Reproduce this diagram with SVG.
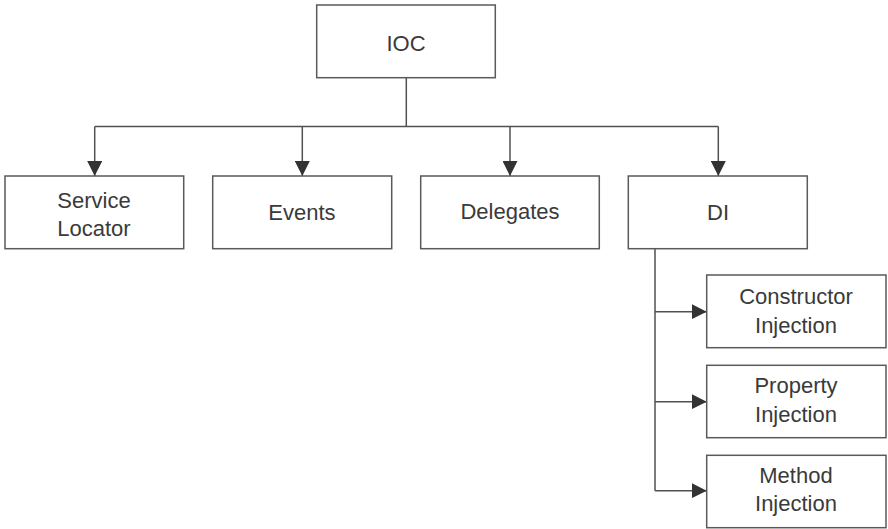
<svg xmlns="http://www.w3.org/2000/svg" width="888" height="529" viewBox="0 0 888 529">
<style>
.box{fill:#fff;stroke:#5a5a5a;stroke-width:1.5}
.lbl{font-family:"Liberation Sans",Arial,sans-serif;font-size:22px;fill:#3a3a3a;text-anchor:middle}
.con{fill:none;stroke:#505050;stroke-width:1.5}
</style>
<defs>
<marker id="ah" markerWidth="15" markerHeight="15" refX="15" refY="7.5" orient="auto" markerUnits="userSpaceOnUse">
<path d="M0,0 L15,7.5 L0,15 Z" fill="#333"/>
</marker>
</defs>
<g id="connectors">
<path class="con" d="M406.3,77.7 V126.5"/>
<path class="con" d="M94.7,126.5 H718.3"/>
<path class="con" d="M94.7,126.5 V176" marker-end="url(#ah)"/>
<path class="con" d="M302.3,126.5 V176" marker-end="url(#ah)"/>
<path class="con" d="M510,126.5 V176" marker-end="url(#ah)"/>
<path class="con" d="M718.3,126.5 V176" marker-end="url(#ah)"/>
<path class="con" d="M655,248.7 V490.7"/>
<path class="con" d="M655,311.7 H706.7" marker-end="url(#ah)"/>
<path class="con" d="M655,401.7 H706.7" marker-end="url(#ah)"/>
<path class="con" d="M655,490.7 H706.7" marker-end="url(#ah)"/>
</g>
<g id="ioc">
<rect class="box" x="316.7" y="5" width="178.6" height="72.7"/>
<text class="lbl" x="406" y="50.5">IOC</text>
</g>
<g id="service-locator">
<rect class="box" x="5" y="176" width="178.7" height="72.7"/>
<text class="lbl" x="94" y="207.5">Service</text>
<text class="lbl" x="94" y="236">Locator</text>
</g>
<g id="events">
<rect class="box" x="212.7" y="176" width="179" height="72.7"/>
<text class="lbl" x="302" y="220">Events</text>
</g>
<g id="delegates">
<rect class="box" x="420.7" y="176" width="178.6" height="72.7"/>
<text class="lbl" x="510" y="219">Delegates</text>
</g>
<g id="di">
<rect class="box" x="628.3" y="176" width="179" height="72.7"/>
<text class="lbl" x="718" y="220">DI</text>
</g>
<g id="constructor-injection">
<rect class="box" x="706.7" y="275" width="179.3" height="72.7"/>
<text class="lbl" x="796" y="304">Constructor</text>
<text class="lbl" x="796" y="332.7">Injection</text>
</g>
<g id="property-injection">
<rect class="box" x="706.7" y="365.3" width="179.3" height="72.4"/>
<text class="lbl" x="796" y="393.3">Property</text>
<text class="lbl" x="796" y="421.7">Injection</text>
</g>
<g id="method-injection">
<rect class="box" x="706.7" y="455.3" width="179.3" height="72.4"/>
<text class="lbl" x="796" y="482.7">Method</text>
<text class="lbl" x="796" y="510.7">Injection</text>
</g>
</svg>
